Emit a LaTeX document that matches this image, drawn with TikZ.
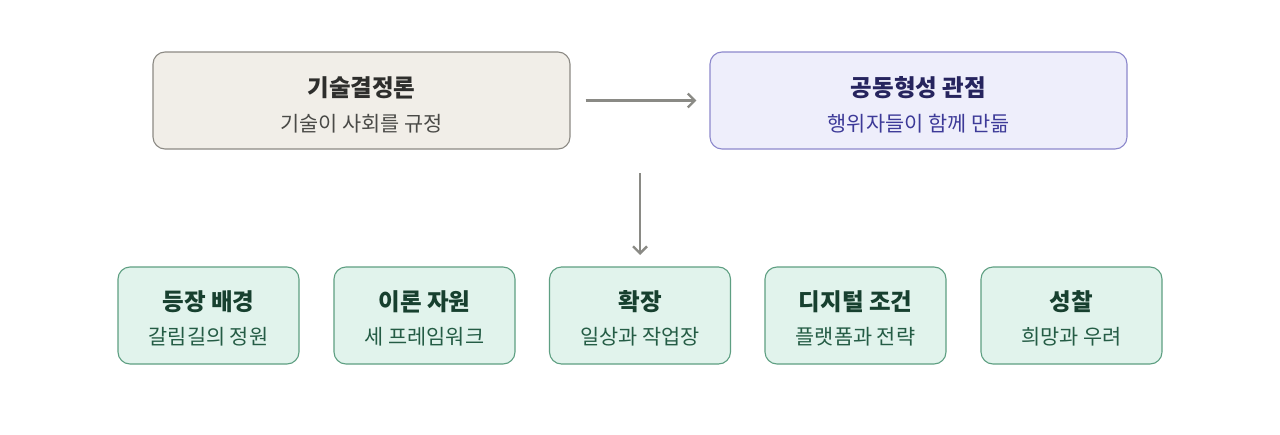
\documentclass[tikz,border=0pt]{standalone}
\usepackage{fontspec}
\setmainfont{Noto Sans CJK KR}
\usetikzlibrary{arrows.meta}
\definecolor{bgwhite}{HTML}{FFFFFF}
\definecolor{tanfill}{HTML}{F1EEE8}
\definecolor{tanline}{HTML}{8C8A84}
\definecolor{tantext}{HTML}{2E2E2C}
\definecolor{tansub}{HTML}{4A4A47}
\definecolor{purfill}{HTML}{EEEEFB}
\definecolor{purline}{HTML}{8C88CC}
\definecolor{purtext}{HTML}{26245E}
\definecolor{pursub}{HTML}{3D3A98}
\definecolor{grnfill}{HTML}{E1F3EC}
\definecolor{grnline}{HTML}{5E9F82}
\definecolor{grntext}{HTML}{17402F}
\definecolor{grnsub}{HTML}{245C45}
\definecolor{arrowgray}{HTML}{8A8A85}
\tikzset{
  box/.style={rounded corners=12pt, line width=1.1pt, inner sep=0pt},
  topbox/.style={box, minimum width=417pt, minimum height=97pt},
  botbox/.style={box, minimum width=181pt, minimum height=97pt, draw=grnline, fill=grnfill},
  ttl/.style={font=\fontsize{23.5}{28}\selectfont\bfseries, anchor=center},
  sub/.style={font=\fontsize{20.8}{24}\selectfont, anchor=center},
  conn/.style={draw=arrowgray, line width=2.4pt, -{Straight Barb[length=7pt, width=14pt, line width=2.4pt]}}
}
\begin{document}
\begin{tikzpicture}[x=1pt, y=-1pt]
\useasboundingbox[fill=bgwhite] (0,0) rectangle (1280,434);
\node[topbox, draw=tanline, fill=tanfill] (det) at (361.5,100.5) {};
\node[topbox, draw=purline, fill=purfill] (co) at (918.5,100.5) {};
\node[ttl, text=tantext] (detT) at (361.5,88) {기술결정론};
\node[sub, text=tansub] (detS) at (361.5,124) {기술이 사회를 규정};
\node[ttl, text=purtext] (coT) at (918.5,88) {공동형성 관점};
\node[sub, text=pursub] (coS) at (918.5,124) {행위자들이 함께 만듦};
\draw[conn] ([xshift=15pt]det.east) -- ([xshift=-13pt]co.west);
\coordinate (vtop) at (640,173);
\coordinate (vbot) at (640,255);
\draw[conn] (vtop) -- (vbot);
\foreach \i/\x/\t/\s in {1/208.5/등장 배경/갈림길의 정원, 2/424.5/이론 자원/세 프레임워크, 3/640/확장/일상과 작업장, 4/855.5/디지털 조건/플랫폼과 전략, 5/1071.5/성찰/희망과 우려}{
  \node[botbox] (b\i) at (\x,315.5) {};
  \node[ttl, text=grntext] (b\i T) at (\x,302) {\t};
  \node[sub, text=grnsub] (b\i S) at (\x,337) {\s};
}
\end{tikzpicture}
\end{document}
